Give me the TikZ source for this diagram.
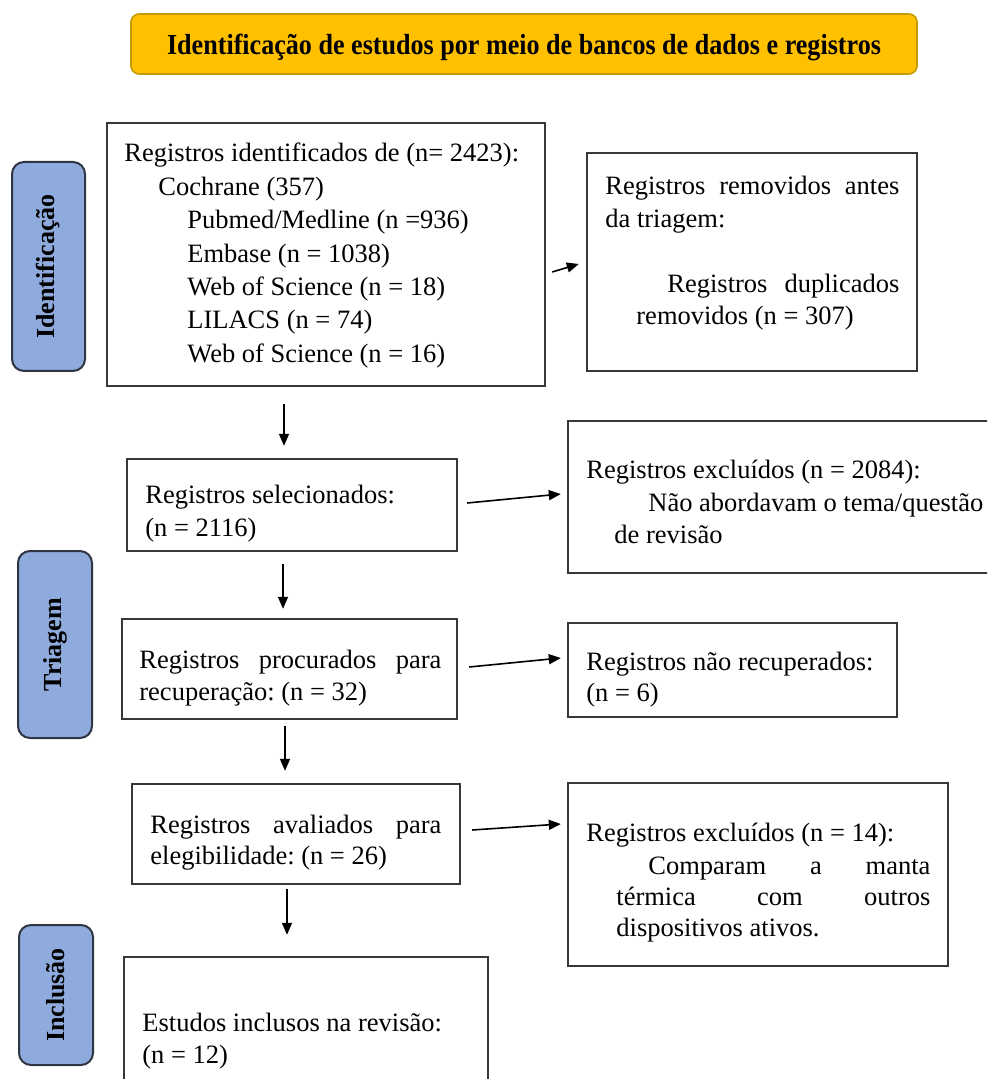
\documentclass[tikz,border=0pt]{standalone}
\usepackage{fontspec}
\setmainfont{Liberation Serif}
\usepackage{graphicx}
\usetikzlibrary{arrows.meta,fit}
\definecolor{gold}{HTML}{FFC000}
\definecolor{goldline}{HTML}{C49A00}
\definecolor{tabblue}{HTML}{8FAADC}
\definecolor{tabline}{HTML}{2F3542}
\definecolor{boxline}{HTML}{383838}
\frenchspacing
\begin{document}
\begin{tikzpicture}[x=0.5pt,y=-0.5pt,
 box/.style={draw=boxline, line width=1.2pt, inner sep=0pt, fill=white},
 tab/.style={draw=tabline, line width=1pt, fill=tabblue, rounded corners=6pt, inner sep=0pt},
 titlebox/.style={draw=goldline, line width=0.8pt, fill=gold, rounded corners=4pt, inner sep=0pt},
 txt/.style={anchor=base west, inner sep=0pt, font=\fontsize{13.25}{16.7}\selectfont},
 tabtxt/.style={rotate=90, inner sep=0pt, font=\bfseries\fontsize{13}{15}\selectfont},
 arr/.style={line width=0.8pt, -{Triangle[length=6pt,width=5pt]}}]
\useasboundingbox (0,0) rectangle (987,1079);
\clip (0,0) rectangle (987,1079);
% title
\node[titlebox, fit={(131,14) (917,74)}] (title) {};
\node[inner sep=0pt, anchor=base, font=\bfseries\fontsize{14.5}{16}\selectfont] (titletxt) at (524,55) {\scalebox{0.9}[1]{Identificação de estudos por meio de bancos de dados e registros}};
% side tabs
\node[tab, fit={(12,162) (85,371)}] (tabA) {};
\node[tabtxt] (tabAt) at (tabA.center) {Identificação};
\node[tab, fit={(18,551) (92,738)}] (tabB) {};
\node[tabtxt] (tabBt) at (tabB.center) {Triagem};
\node[tab, fit={(19,925) (93,1065)}] (tabC) {};
\node[tabtxt] (tabCt) at (tabC.center) {Inclusão};
% boxes
\node[box, fit={(107,123) (545,386)}] (b1) {};
\node[box, fit={(587,153) (917,371)}] (b2) {};
\node[box, fit={(127,459) (457,551)}] (b3) {};
\node[box, fit={(568,421) (1000,573)}] (b4) {};
\node[box, fit={(122,619) (457,719)}] (b5) {};
\node[box, fit={(568,623) (897,717)}] (b6) {};
\node[box, fit={(132,784) (460,884)}] (b7) {};
\node[box, fit={(568,783) (948,966)}] (b8) {};
\node[box, fit={(124,957) (488,1095)}] (b9) {};
% texts box 1
\node[txt] (t1a) at (124,162) {Registros identificados de (n= 2423):};
\node[txt] (t1b) at (158,195.5) {Cochrane (357)};
\node[txt] (t1c) at (187,229) {Pubmed/Medline (n =936)};
\node[txt] (t1d) at (187,262.5) {Embase (n = 1038)};
\node[txt] (t1e) at (187,296) {Web of Science (n = 18)};
\node[txt] (t1f) at (187,329) {LILACS (n = 74)};
\node[txt] (t1g) at (187,362.5) {Web of Science (n = 16)};
% box 2
\node[txt] (t2a) at (605,195) {\makebox[147pt][s]{Registros removidos antes}};
\node[txt] (t2b) at (605,228) {da triagem:};
\node[txt] (t2c) at (667,293) {\makebox[116pt][s]{Registros duplicados}};
\node[txt] (t2d) at (636,325) {removidos (n = 307)};
% box 3
\node[txt] (t3a) at (145,503) {Registros selecionados:};
\node[txt] (t3b) at (145,536) {(n = 2116)};
% box 4
\node[txt] (t4a) at (586,478) {Registros excluídos (n = 2084):};
\node[txt] (t4b) at (648,511) {Não abordavam o tema/questão};
\node[txt] (t4c) at (614,543) {de revisão};
% box 5
\node[txt] (t5a) at (139,668) {\makebox[151pt][s]{Registros procurados para}};
\node[txt] (t5b) at (139,700) {recuperação: (n = 32)};
% box 6
\node[txt] (t6a) at (586,670) {Registros não recuperados:};
\node[txt] (t6b) at (586,701) {(n = 6)};
% box 7
\node[txt] (t7a) at (150,833) {\makebox[145.5pt][s]{Registros avaliados para}};
\node[txt] (t7b) at (150,864) {elegibilidade: (n = 26)};
% box 8
\node[txt] (t8a) at (586,841) {Registros excluídos (n = 14):};
\node[txt] (t8b) at (648,874) {\makebox[141pt][s]{Comparam a manta}};
\node[txt] (t8c) at (616,905) {\makebox[157pt][s]{térmica com outros}};
\node[txt] (t8d) at (616,936) {dispositivos ativos.};
% box 9
\node[txt] (t9a) at (142,1031) {Estudos inclusos na revisão:};
\node[txt] (t9b) at (142,1063) {(n = 12)};
% arrows
\draw[arr] ([shift={(6,17.5)}]b1.east) -- ([shift={(-7,2)}]b2.west);
\draw[arr] ([shift={(-42,17)}]b1.south) -- ([shift={(-8,-12)}]b3.north);
\draw[arr] ([shift={(9,-2)}]b3.east) -- ([shift={(-6,-3)}]b4.west);
\draw[arr] ([shift={(-9,12)}]b3.south) -- ([shift={(-6.5,-9)}]b5.north);
\draw[arr] ([shift={(11,-2)}]b5.east) -- ([shift={(-6,-12)}]b6.west);
\draw[arr] ([shift={(-4.5,6)}]b5.south) -- ([shift={(-11,-12)}]b7.north);
\draw[arr] ([shift={(11,-4)}]b7.east) -- ([shift={(-6,-50.5)}]b8.west);
\draw[arr] ([shift={(-9,4)}]b7.south) -- ([shift={(-19,-21)}]b9.north);
\end{tikzpicture}
\end{document}
